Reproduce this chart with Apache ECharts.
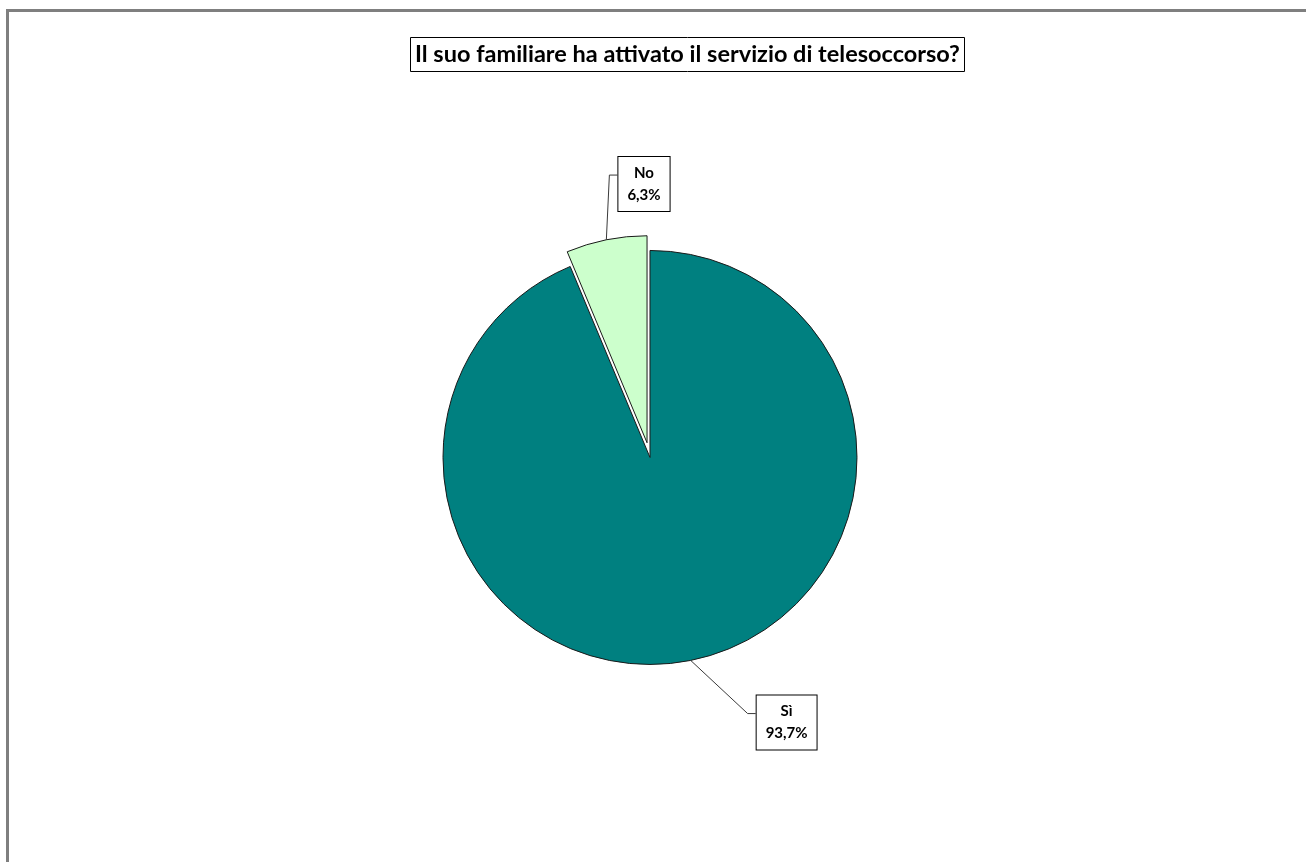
<!DOCTYPE html>
<html>
<head>
<meta charset="utf-8">
<script src="https://cdn.jsdelivr.net/npm/echarts@6/dist/echarts.min.js"></script>
<style>
  html, body { margin: 0; padding: 0; background: #ffffff; }
  #chart { width: 1306px; height: 862px; }
</style>
</head>
<body>
<div id="chart"></div>
<script>
// Survey answers: "Has your relative activated the telecare service?"
const titleText = 'Il suo familiare ha attivato il servizio di telesoccorso?';
const categories = ['Sì', 'No'];
const percentages = [93.7, 6.3];
const sliceColors = ['#008080', '#CCFFCC'];
const explodedCategory = 'No';

// label box centres (fraction of chart width/height) for each answer
const labelSpots = {
  'Sì': [0.6023, 0.8382],
  'No': [0.4931, 0.2135]
};

const chart = echarts.init(document.getElementById('chart'), null, { renderer: 'canvas' });
const W = chart.getWidth();
const H = chart.getHeight();

const fmt = v => v.toFixed(1).replace('.', ',') + '%';

// pie geometry
const cx = 0.4977 * W;
const cy = 0.5307 * H;
const radius = 207;
const explodeOffset = 15;

// bisector angle of every slice (standard math angle, slices run clockwise from 12 o'clock)
const total = percentages.reduce((a, b) => a + b, 0);
const midAngles = [];
let startFrac = 0;
percentages.forEach(v => {
  const frac = v / total;
  midAngles.push(Math.PI / 2 - (startFrac + frac / 2) * 2 * Math.PI);
  startFrac += frac;
});
const exIdx = categories.indexOf(explodedCategory);
const exCx = cx + explodeOffset * Math.cos(midAngles[exIdx]);
const exCy = cy - explodeOffset * Math.sin(midAngles[exIdx]);

const labelBase = {
  show: true,
  position: 'outside',
  formatter: p => p.name + '\n' + fmt(p.value),
  fontFamily: 'Lato',
  fontWeight: 'bold',
  fontSize: 15,
  lineHeight: 22,
  color: '#000000',
  align: 'center',
  backgroundColor: '#ffffff',
  borderColor: '#000000',
  borderWidth: 1,
  padding: [5, 9, 5, 9]
};

// one layer per slice placement: the exploded slice sits on its own shifted centre
function layer(exploded, center) {
  return {
    type: 'pie',
    center: center,
    radius: radius,
    startAngle: 90,
    clockwise: true,
    selectedMode: false,
    avoidLabelOverlap: false,
    silent: true,
    itemStyle: { borderColor: '#1a1a1a', borderWidth: 1 },
    emphasis: { disabled: true },
    data: categories.map((name, i) => {
      const visible = (name === explodedCategory) === exploded;
      return {
        name: name,
        value: percentages[i],
        itemStyle: visible
          ? { color: sliceColors[i] }
          : { color: 'rgba(0,0,0,0)', borderWidth: 0 },
        label: visible ? {} : { show: false },
        labelLine: visible ? {} : { show: false }
      };
    }),
    label: labelBase,
    labelLine: {
      show: true,
      length: 20,
      length2: 8,
      lineStyle: { color: '#3a3a3a', width: 1 }
    },
    labelLayout: function (params) {
      const i = params.dataIndex;
      const spot = labelSpots[categories[i]];
      const lx = spot[0] * W;
      const ly = spot[1] * H;
      const lw = params.labelRect.width;
      const lh = params.labelRect.height;
      // leader: from the slice's outer arc midpoint to the box's left side
      const ox = center[0] + radius * Math.cos(midAngles[i]);
      const oy = center[1] - radius * Math.sin(midAngles[i]);
      const ax = lx - lw / 2;
      const ay = ly - lh / 2 + lh * 0.34;
      return {
        x: lx,
        y: ly,
        align: 'center',
        verticalAlign: 'middle',
        hideOverlap: false,
        labelLinePoints: [[ox, oy], [ax - 8, ay], [ax, ay]]
      };
    }
  };
}

chart.setOption({
  backgroundColor: '#ffffff',
  animation: false,
  title: {
    text: titleText,
    left: 410,
    top: 37,
    padding: [5, 5, 5, 5],
    borderColor: '#000000',
    borderWidth: 1,
    backgroundColor: '#ffffff',
    textStyle: {
      fontFamily: 'Lato',
      fontWeight: 'bold',
      fontSize: 23.5,
      color: '#000000',
      lineHeight: 25
    }
  },
  graphic: [
    { type: 'rect', shape: { x: 6, y: 9, width: W - 6, height: 3 }, style: { fill: '#7f7f7f' }, silent: true },
    { type: 'rect', shape: { x: 6, y: 9, width: 3, height: H - 9 }, style: { fill: '#7f7f7f' }, silent: true }
  ],
  series: [
    layer(false, [cx, cy]),
    layer(true, [exCx, exCy])
  ]
});
</script>
</body>
</html>
